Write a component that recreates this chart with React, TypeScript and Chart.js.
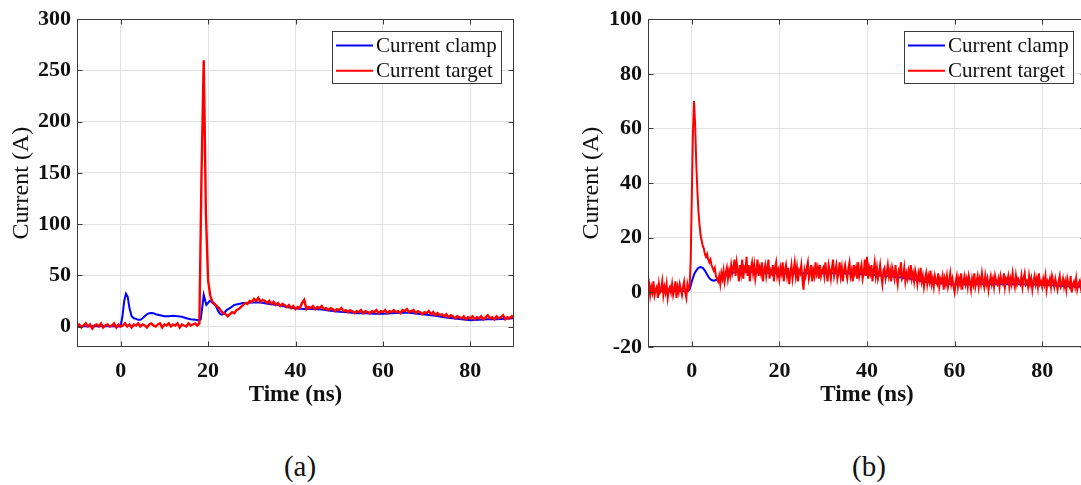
import React, { useEffect, useRef } from 'react';
import { Chart, registerables } from 'chart.js';

Chart.register(...registerables);

const SERIF = '"Liberation Serif", "Times New Roman", Times, serif';

// ---------- data ----------
const seriesLabels = ['Current clamp', 'Current target'];
const seriesColors = ['rgb(0,0,255)', 'rgb(255,0,0)'];

// target current traces are sampled on uniform grids starting at -10 ns
const targetStart = -10;
const targetStepA = 0.5;
const targetStepB = 0.25;

// (a) current target, t = -10 .. 90 ns, step 0.5 ns
const targetA = [
  0, 2, -1, 1, 3, 0, 2, -2, 1, 2, 0, 3, -1, 1, 2, 0, 1, 3, -1, 2,
  0, 1, 3, 0, 2, -1, 2, 1, 3, 0, 2, 1, -1, 2, 3, 1, 0, 2, 3, -1,
  2, 1, 3, 0, 2, 1, 3, -1, 2, 1, 0, 3, 1, 2, 3, 1, 3, 150, 260, 110,
  45, 30, 24, 22, 20, 18, 15, 13, 12, 10, 12, 14, 13, 16, 17, 19, 21, 23, 22, 25,
  24, 27, 25, 28, 24, 26, 25, 23, 25, 22, 24, 21, 23, 20, 22, 21, 19, 21, 18, 20,
  17, 19, 18, 23, 26, 17, 19, 18, 20, 17, 19, 18, 20, 17, 18, 16, 18, 17, 15, 17,
  16, 18, 15, 16, 14, 16, 15, 13, 15, 14, 16, 13, 15, 14, 13, 15, 14, 16, 13, 15,
  14, 16, 13, 15, 14, 16, 14, 15, 13, 16, 15, 17, 14, 15, 16, 13, 15, 14, 12, 14,
  13, 15, 12, 14, 11, 13, 11, 12, 10, 12, 9, 11, 10, 8, 10, 9, 8, 10, 7, 9,
  8, 10, 7, 9, 8, 10, 7, 9, 11, 8, 9, 7, 10, 8, 9, 11, 7, 9, 8, 10,
  8,
];

// (a) current clamp
const clampATime = [
  -10, -5, -0.2, 0, 0.4, 0.8, 1.2, 1.6, 2.0, 2.5, 3, 3.5, 4, 4.5, 5, 5.5, 6, 6.5, 7, 7.5,
  8, 9, 10, 11, 12, 13, 14, 15, 16, 17, 18, 18.3, 18.7, 19.0, 19.3, 19.6, 20.0, 20.4, 20.8, 21.3,
  21.8, 22.3, 22.8, 23.2, 23.7, 24.2, 25, 26, 27, 28, 29, 30, 32, 34, 36, 38, 40, 42, 44, 46,
  48, 50, 52, 54, 56, 58, 60, 62, 64, 66, 68, 70, 72, 74, 76, 78, 80, 82, 84, 86,
  88, 90,
];
const clampA = [
  0, 0.5, 0, 0.5, 10, 25, 32, 29, 18, 10, 8, 7.5, 6.5, 6.5, 8, 10, 12, 13, 13.2, 13,
  12, 11, 10, 10, 10.5, 10, 9.5, 8, 7, 6.5, 6, 7, 20, 31, 26, 21, 23, 25, 24, 22,
  20, 15, 12, 11.5, 13, 16, 18, 21, 22, 23, 23, 23.5, 23.5, 22, 21, 19, 17.5, 17, 17, 16.5,
  15.5, 14.5, 14, 13, 13, 12.5, 12.5, 13, 13.5, 13.5, 12.5, 11.5, 10.5, 9, 8, 7, 6, 6.5, 7, 7,
  7.5, 8,
];

// (b) current target, t = -10 .. 90 ns, step 0.25 ns (one row = 5 ns)
const targetB = [
  1, 3, -1, 2, 0, 4, -1, 1, 2, -2, 3, 0, 1, 4, -1, 2, 0, 3, -2, 1,
  2, 0, 3, -1, 1, 4, -2, 2, 0, 3, 1, -1, 2, 4, 0, -2, 3, 1, 2, 12,
  35, 58, 70, 62, 48, 38, 30, 25, 21, 19, 17, 16, 14, 13, 14, 12, 11, 12, 10, 9,
  8, 9, 6, 5, 4, 6, 3, 7, 5, 8, 4, 7, 9, 5, 8, 6, 10, 7, 9, 12,
  6, 11, 8, 4, 10, 7, 12, 5, 9, 8, 13, 6, 10, 4, 9, 11, 7, 10, 5, 8,
  12, 6, 9, 7, 11, 4, 8, 10, 6, 9, 12, 5, 8, 7, 10, 4, 9, 11, 6, 8,
  5, 9, 7, 11, 4, 8, 10, 6, 9, 3, 7, 10, 5, 8, 11, 6, 9, 4, 8, 7,
  10, 5, 1, 8, 6, 9, 11, 5, 7, 10, 4, 8, 6, 11, 7, 9, 5, 10, 6, 8,
  9, 6, 11, 7, 4, 10, 8, 5, 9, 12, 6, 8, 10, 5, 7, 11, 6, 9, 4, 8,
  10, 7, 5, 9, 11, 6, 8, 4, 10, 7, 9, 5, 11, 6, 8, 10, 5, 7, 12, 6,
  13, 5, 9, 7, 10, 4, 8, 11, 6, 9, 5, 7, 10, 6, 3, 8, 9, 5, 7, 10,
  6, 8, 4, 9, 7, 5, 10, 6, 3, 8, 7, 11, 5, 6, 9, 4, 7, 5, 8, 6,
  10, 5, 7, 4, 8, 6, 3, 7, 5, 9, 4, 6, 2, 5, 7, 3, 6, 4, 8, 3,
  5, 2, 6, 4, 3, 7, 2, 5, 4, 6, 1, 5, 3, 6, 2, 4, 7, 3, 5, 2,
  0, 4, 6, 2, 5, 3, 7, 1, 4, 6, 3, 5, 2, 6, 4, 1, 5, 3, 7, 2,
  4, 6, 2, 5, 3, 7, 4, 2, 6, 3, 5, 1, 4, 6, 3, 5, 2, 6, 4, 3,
  5, 2, 6, 4, 3, 7, 2, 5, 4, 6, 2, 5, 3, 7, 4, 2, 6, 3, 5, 4,
  3, 6, 2, 5, 7, 3, 4, 2, 6, 3, 5, 1, 4, 6, 3, 5, 2, 7, 3, 4,
  2, 5, 3, 6, 1, 4, 3, 5, 2, 6, 4, 2, 5, 3, 1, 4, 6, 2, 3, 5,
  2, 4, 1, 5, 3, 2, 6, 0, 3, 4, 2, 5, 1, 3, 4, 2, 5, 1, 3, 2,
  3,
];

// (b) current clamp
const clampBTime = [
  -10, -5, -1, -0.5, 0, 0.5, 1, 1.5, 2, 2.5, 3, 3.5, 4, 4.5, 5, 5.5, 6, 7, 8, 10,
  12, 15, 20, 25, 30, 35, 40, 45, 50, 53, 56, 60, 65, 70, 75, 80, 85, 90,
];
const clampB = [
  0.5, 0.5, 0.5, 1, 4, 6.5, 8, 9, 9.3, 9, 8, 6.5, 5.2, 4.5, 4.3, 4.5, 5, 6, 6.5, 7.5,
  7.5, 7.5, 7, 7, 7, 7, 6.5, 6, 5, 4, 3.3, 3, 3, 3, 3, 2.8, 2.3, 2,
];

const xRange = [-10, 90];
const xTicks = [0, 20, 40, 60, 80];
const yRangeA = [-20, 300];
const yTicksA = [0, 50, 100, 150, 200, 250, 300];
const yRangeB = [-20, 100];
const yTicksB = [-20, 0, 20, 40, 60, 80, 100];
const xTitle = 'Time (ns)';
const yTitle = 'Current (A)';
const captions = ['(a)', '(b)'];

// ---------- plugins ----------
const framePlugin = {
  id: 'matlabFrame',
  afterDatasetsDraw(chart: any) {
    const { ctx, chartArea: a, scales } = chart;
    const L = Math.round(a.left) + 0.5;
    const T = Math.round(a.top) + 0.5;
    const R = Math.round(a.right) - 0.5;
    const B = Math.round(a.bottom) - 0.5;
    ctx.save();
    ctx.strokeStyle = '#3a3a3a';
    ctx.lineWidth = 1;
    ctx.strokeRect(L, T, R - L, B - T);
    ctx.beginPath();
    const tl = 5;
    for (const t of scales.x.ticks) {
      const px = Math.round(scales.x.getPixelForValue(t.value)) + 0.5;
      ctx.moveTo(px, B); ctx.lineTo(px, B - tl);
      ctx.moveTo(px, T); ctx.lineTo(px, T + tl);
    }
    for (const t of scales.y.ticks) {
      const py = Math.round(scales.y.getPixelForValue(t.value)) + 0.5;
      ctx.moveTo(L, py); ctx.lineTo(L + tl, py);
      ctx.moveTo(R, py); ctx.lineTo(R - tl, py);
    }
    ctx.stroke();
    ctx.restore();
  },
};

const insideLegendPlugin = {
  id: 'insideLegend',
  afterDraw(chart: any) {
    const { ctx, chartArea: a } = chart;
    const ds = chart.data.datasets;
    ctx.save();
    ctx.font = `21px ${SERIF}`;
    let maxW = 0;
    for (const d of ds) maxW = Math.max(maxW, ctx.measureText(d.label).width);
    const lineLen = 37;
    const w = 4 + lineLen + 3 + maxW + 5;
    const h = 53;
    const right = Math.round(a.right - 12);
    const left = Math.round(right - w);
    const top = Math.round(a.top + 12);
    ctx.fillStyle = '#ffffff';
    ctx.fillRect(left, top, right - left, h);
    ctx.strokeStyle = '#3a3a3a';
    ctx.lineWidth = 1;
    ctx.strokeRect(left + 0.5, top + 0.5, right - left - 1, h - 1);
    ds.forEach((d: any, i: number) => {
      const cy = top + 14.5 + i * 25.3;
      ctx.strokeStyle = d.borderColor;
      ctx.lineWidth = 2;
      ctx.beginPath();
      ctx.moveTo(left + 4, cy);
      ctx.lineTo(left + 4 + lineLen, cy);
      ctx.stroke();
      ctx.fillStyle = '#111111';
      ctx.textBaseline = 'middle';
      ctx.textAlign = 'left';
      ctx.fillText(d.label, left + 4 + lineLen + 3, cy + 1);
    });
    ctx.restore();
  },
};

// ---------- chart ----------
type Panel = {
  left: number;
  clampTime: number[];
  clamp: number[];
  target: number[];
  targetStep: number;
  targetWidth: number;
  yRange: number[];
  yTicks: number[];
  pad: { left: number; top: number; right: number; bottom: number };
  yAxisWidth: number;
  yTitlePad: number;
};

const CANVAS_W = 540;
const CANVAS_H = 420;
const PLOT_BOTTOM = 347;

const panels: Panel[] = [
  {
    left: 0, clampTime: clampATime, clamp: clampA, target: targetA,
    targetStep: targetStepA, targetWidth: 2.4,
    yRange: yRangeA, yTicks: yTicksA,
    pad: { left: 3, top: 17, right: 26, bottom: 0 }, yAxisWidth: 74, yTitlePad: 4,
  },
  {
    left: 560, clampTime: clampBTime, clamp: clampB, target: targetB,
    targetStep: targetStepB, targetWidth: 2,
    yRange: yRangeB, yTicks: yTicksB,
    pad: { left: 3, top: 17, right: 14, bottom: 0 }, yAxisWidth: 85, yTitlePad: 14,
  },
];

function buildConfig(p: Panel): any {
  const clampPts = p.clampTime.map((t, i) => ({ x: t, y: p.clamp[i] }));
  const targetPts = p.target.map((v, i) => ({ x: targetStart + i * p.targetStep, y: v }));
  return {
    type: 'line',
    data: {
      datasets: [
        {
          label: seriesLabels[0], data: clampPts, borderColor: seriesColors[0],
          borderWidth: 2, pointRadius: 0, tension: 0, order: 2, fill: false,
        },
        {
          label: seriesLabels[1], data: targetPts, borderColor: seriesColors[1],
          borderWidth: p.targetWidth, pointRadius: 0, tension: 0, order: 1, fill: false,
        },
      ],
    },
    options: {
      responsive: false,
      animation: false,
      events: [],
      layout: { padding: p.pad },
      plugins: { legend: { display: false }, tooltip: { enabled: false } },
      scales: {
        x: {
          type: 'linear',
          min: xRange[0],
          max: xRange[1],
          afterBuildTicks: (s: any) => { s.ticks = xTicks.map((v) => ({ value: v })); },
          afterFit: (s: any) => { s.height = CANVAS_H - PLOT_BOTTOM - p.pad.bottom; },
          grid: { color: '#e2e2e2', lineWidth: 1, drawTicks: false },
          border: { display: false },
          ticks: {
            padding: 11,
            color: '#111111',
            font: { family: SERIF, size: 22, weight: 'bold' },
            maxRotation: 0,
            autoSkip: false,
          },
          title: {
            display: true,
            text: xTitle,
            color: '#111111',
            font: { family: SERIF, size: 23, weight: 'bold' },
            padding: { top: 0, bottom: 11 },
          },
        },
        y: {
          type: 'linear',
          min: p.yRange[0],
          max: p.yRange[1],
          afterBuildTicks: (s: any) => { s.ticks = p.yTicks.map((v) => ({ value: v })); },
          afterFit: (s: any) => { s.width = p.yAxisWidth; },
          grid: { color: '#e2e2e2', lineWidth: 1, drawTicks: false },
          border: { display: false },
          ticks: {
            padding: 6,
            color: '#111111',
            font: { family: SERIF, size: 22, weight: 'bold' },
            autoSkip: false,
          },
          title: {
            display: true,
            text: yTitle,
            color: '#111111',
            font: { family: SERIF, size: 24, weight: 'normal' },
            padding: { top: p.yTitlePad, bottom: 0 },
          },
        },
      },
    },
    plugins: [framePlugin, insideLegendPlugin],
  };
}

function TraceChart({ panel }: { panel: Panel }) {
  const ref = useRef<HTMLCanvasElement>(null);
  useEffect(() => {
    const chart = new Chart(ref.current as HTMLCanvasElement, buildConfig(panel));
    return () => chart.destroy();
  }, [panel]);
  return (
    <canvas
      ref={ref}
      width={CANVAS_W}
      height={CANVAS_H}
      style={{ position: 'absolute', left: panel.left, top: 0, width: CANVAS_W, height: CANVAS_H }}
    />
  );
}

const captionCenters = [300, 869];

export default function App() {
  return (
    <div
      style={{
        position: 'fixed', left: 0, top: 0, width: 1081, height: 485,
        overflow: 'hidden', background: '#ffffff',
      }}
    >
      {panels.map((p, i) => (
        <TraceChart key={i} panel={p} />
      ))}
      {captions.map((c, i) => (
        <div
          key={c}
          style={{
            position: 'absolute', left: captionCenters[i], top: 451,
            transform: 'translateX(-50%)', fontFamily: SERIF, fontSize: 29,
            lineHeight: '30px', color: '#111111', whiteSpace: 'nowrap',
          }}
        >
          {c}
        </div>
      ))}
    </div>
  );
}
